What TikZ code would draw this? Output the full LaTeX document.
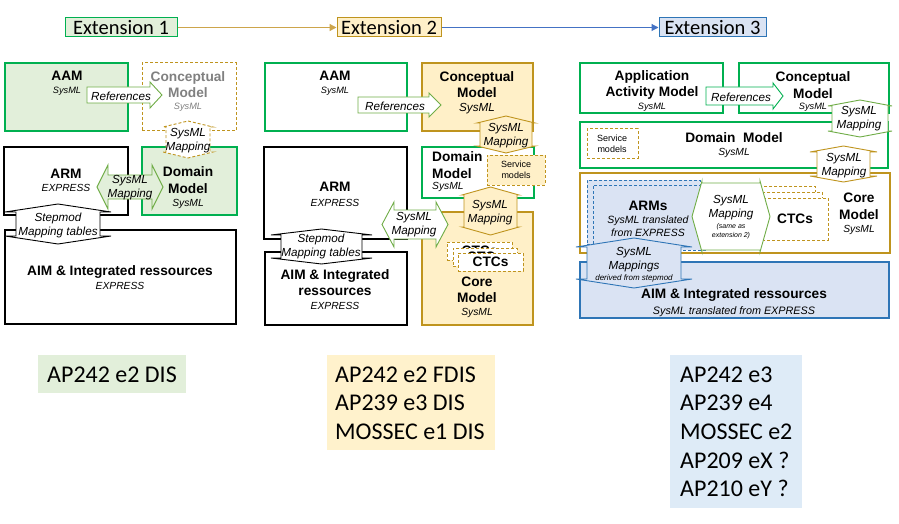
\documentclass[tikz,border=0pt]{standalone}
\usepackage{fontspec}
\setmainfont{Liberation Sans}
\newfontfamily\calib{Carlito}
\usetikzlibrary{arrows.meta}
\definecolor{grn}{RGB}{0,176,80}
\definecolor{grnl}{RGB}{226,239,218}
\definecolor{agrn}{RGB}{112,173,71}
\definecolor{gold}{RGB}{191,148,30}
\definecolor{goldl}{RGB}{255,240,200}
\definecolor{blu}{RGB}{46,117,182}
\definecolor{blul}{RGB}{218,227,243}
\definecolor{gry}{RGB}{128,128,128}
\definecolor{botgreen}{RGB}{226,239,218}
\definecolor{botgold}{RGB}{255,242,204}
\definecolor{botblue}{RGB}{222,235,247}
\definecolor{hgold}{RGB}{205,165,75}
\definecolor{hblue}{RGB}{68,114,196}
% vertical double arrow: style, x1, ytop, x2, ybottom, head length, shaft inset
\newcommand{\myVDA}[7]{\draw[#1] ({(#2+#4)/2},{#3}) -- ({#4},{#3+#6}) -- ({#4-#7},{#3+#6}) -- ({#4-#7},{#5-#6}) -- ({#4},{#5-#6}) -- ({(#2+#4)/2},{#5}) -- ({#2},{#5-#6}) -- ({#2+#7},{#5-#6}) -- ({#2+#7},{#3+#6}) -- ({#2},{#3+#6}) -- cycle;}
% horizontal double arrow: style, x1, ytop, x2, ybottom, head length, shaft inset
\newcommand{\myHDA}[7]{\draw[#1] ({#2},{(#3+#5)/2}) -- ({#2+#6},{#3}) -- ({#2+#6},{#3+#7}) -- ({#4-#6},{#3+#7}) -- ({#4-#6},{#3}) -- ({#4},{(#3+#5)/2}) -- ({#4-#6},{#5}) -- ({#4-#6},{#5-#7}) -- ({#2+#6},{#5-#7}) -- ({#2+#6},{#5}) -- cycle;}
% right arrow: style, x1, ytop, x2, ybottom, head length, shaft inset
\newcommand{\myRA}[7]{\draw[#1] ({#2},{#3+#7}) -- ({#4-#6},{#3+#7}) -- ({#4-#6},{#3}) -- ({#4},{(#3+#5)/2}) -- ({#4-#6},{#5}) -- ({#4-#6},{#5-#7}) -- ({#2},{#5-#7}) -- cycle;}
% box node: name, style, x1, y1, x2, y2
\newcommand{\mybox}[6]{\node[#2, inner sep=0pt, outer sep=0pt, minimum width={#5pt-#3pt}, minimum height={#6pt-#4pt}] (#1) at ({(#3+#5)/2},{(#4+#6)/2}) {};}
\tikzset{
  bx/.style={line width=1.1pt},
  dsh/.style={line width=1pt, dash pattern=on 3pt off 2pt},
  arr/.style={line width=0.9pt, line join=miter},
  ttl/.style={font={\fontsize{13.7}{16.5}\selectfont\bfseries}, align=center, inner sep=0pt},
  sub/.style={font={\fontsize{10.3}{12}\selectfont\itshape}, align=center, inner sep=0pt},
  subs/.style={font={\fontsize{9.2}{11}\selectfont\itshape}, align=center, inner sep=0pt},
  atx/.style={font={\fontsize{11.7}{14}\selectfont\itshape}, align=center, inner sep=0pt},
  svc/.style={font={\fontsize{9}{11}\selectfont}, align=center, inner sep=0pt},
  hdr/.style={line width=1pt, inner sep=0pt, minimum height=19pt, font={\calib\fontsize{20.5}{22}\selectfont}},
  bot/.style={font={\calib\fontsize{24}{27}\selectfont}, inner sep=0pt, anchor=base west},
}
\begin{document}
\begin{tikzpicture}[x=1pt,y=-1pt]
\useasboundingbox (0,0) rectangle (899,524);
\fill[white] (0,0) rectangle (899,524);

% ---------------- header ----------------
\node[hdr, draw=grn, fill=grnl, minimum width=112pt] (e1) at (121,27.5) {Extension 1};
\node[hdr, draw=gold, fill=goldl, minimum width=104pt] (e2) at (389,27.5) {Extension 2};
\node[hdr, draw=blu, fill=blul, minimum width=107pt] (e3) at (712.5,27.5) {Extension 3};
\draw[-{Triangle[length=7pt,width=7pt]}, hgold, line width=1.3pt] (e1) -- (e2);
\draw[-{Triangle[length=7pt,width=7pt]}, hblue, line width=1.1pt] (e2) -- (e3);

% ---------------- column 1 ----------------
\mybox{aam1}{bx, draw=grn, fill=grnl}{5}{63}{128}{131}
\mybox{con1}{dsh, draw=gold, fill=white}{142}{63}{236}{131}
\mybox{arm1}{bx, draw=black, fill=white}{4}{147}{128}{215}
\mybox{dom1}{bx, draw=grn, fill=grnl}{142}{147}{237}{215}
\mybox{aim1}{bx, draw=black, fill=white}{5}{230}{236}{324}

\node[ttl] (aam1t) at (67,76) {AAM};
\node[subs] (aam1s) at (67,91) {SysML};
\node[ttl, text=gry] (con1t) at (188,84.5) {Conceptual\\Model};
\node[subs, text=gry] (con1s) at (188,107) {SysML};
\node[ttl] (arm1t) at (66,174) {ARM};
\node[sub] (arm1s) at (66,188) {EXPRESS};
\node[ttl] (dom1t) at (188,180) {Domain\\Model};
\node[sub] (dom1s) at (188,204) {SysML};
\node[ttl] (aim1t) at (120,272) {AIM \& Integrated ressources};
\node[sub] (aim1s) at (120,286) {EXPRESS};

\myVDA{arr, draw=black, fill=white}{5}{204}{111}{244}{8}{11}
\node[atx] (stp1) at (58,225) {Stepmod\\Mapping tables};
\myHDA{arr, draw=agrn, fill=grnl}{97}{165}{163}{209}{11}{10}
\node[atx] (map1h) at (130,188) {SysML\\Mapping};
\myVDA{arr, draw=gold, fill=white, dash pattern=on 3pt off 2pt}{163}{121}{213}{158}{6}{3}
\node[atx] (map1v) at (188,140.5) {SysML\\Mapping};
\myRA{arr, draw=agrn, fill=white}{87}{82}{162}{108}{12}{5}
\node[atx] (ref1) at (121,96) {References};

% ---------------- column 2 ----------------
\mybox{aam2}{bx, draw=grn, fill=white}{265}{63}{407}{131}
\mybox{con2}{bx, draw=gold, fill=goldl}{422}{63}{533}{131}
\mybox{dom2}{bx, draw=grn, fill=white}{422}{147}{534}{198}
\mybox{svc2}{dsh, draw=gold, fill=goldl}{487}{155}{545}{185}
\mybox{arm2}{bx, draw=black, fill=white}{264}{147}{407}{239}
\mybox{aim2}{bx, draw=black, fill=white}{265}{252}{407}{325}
\mybox{core2}{bx, draw=gold, fill=goldl}{422}{212}{533}{325}

\node[ttl] (aam2t) at (335,76) {AAM};
\node[subs] (aam2s) at (335,91) {SysML};
\node[ttl] (con2t) at (477,84.5) {Conceptual\\Model};
\node[atx] (con2s) at (477,109) {SysML};
\node[ttl, align=left, anchor=west] (dom2t) at (432,165) {Domain\\Model};
\node[sub, anchor=west] (dom2s) at (432,187) {SysML};
\node[svc] (svc2t) at (516,170) {Service\\models};
\node[ttl] (arm2t) at (335,187) {ARM};
\node[sub] (arm2s) at (335,203) {EXPRESS};
\node[ttl] (aim2t) at (335,282.5) {AIM \& Integrated\\ressources};
\node[sub] (aim2s) at (335,306) {EXPRESS};
\node[ttl] (core2t) at (477,290) {Core\\Model};
\node[sub] (core2s) at (477,313) {SysML};

\mybox{ctc2a}{dsh, draw=gold, fill=white}{447}{242}{512}{260}
\node[ttl] (ctc2at) at (ctc2a) {CTCs};
\mybox{ctc2b}{dsh, draw=gold, fill=white}{453}{248}{517}{266}
\node[ttl] (ctc2bt) at (ctc2b) {CTCs};
\mybox{ctc2c}{dsh, draw=gold, fill=white}{458}{253}{523}{271}
\node[ttl] (ctc2ct) at (ctc2c) {CTCs};

\myVDA{arr, draw=gold, fill=goldl}{477}{116}{535}{153}{7}{3}
\node[atx] (map2a) at (506,136) {SysML\\Mapping};
\myVDA{arr, draw=gold, fill=goldl}{462}{187}{519}{235}{8}{2}
\node[atx] (map2b) at (490,213) {SysML\\Mapping};
\myHDA{arr, draw=agrn, fill=white}{382}{202}{448}{247}{12}{8}
\node[atx] (map2h) at (414,225) {SysML\\Mapping};
\myVDA{arr, draw=black, fill=white}{271}{229}{372}{264}{6}{10}
\node[atx] (stp2) at (321,246) {Stepmod\\Mapping tables};
\myRA{arr, draw=agrn, fill=white}{358}{93}{441}{117}{12}{4}
\node[atx] (ref2) at (395,106) {References};

% ---------------- column 3 ----------------
\mybox{aam3}{bx, draw=grn, fill=white}{580}{63}{723}{113}
\mybox{con3}{bx, draw=grn, fill=white}{739}{63}{889}{113}
\mybox{dom3}{bx, draw=grn, fill=white}{580}{122}{888}{168}
\mybox{svc3}{dsh, draw=gold, fill=white}{587}{129}{638}{158}
\mybox{core3}{bx, draw=gold, fill=white}{580}{173}{890}{253}
\mybox{aim3}{bx, draw=blu, fill=blul}{580}{262}{889}{318}

\node[ttl] (aam3t) at (652,85) {Application\\Activity Model};
\node[subs] (aam3s) at (652,107) {SysML};
\node[ttl] (con3t) at (813,85) {Conceptual\\Model};
\node[subs] (con3s) at (813,107) {SysML};
\node[ttl] (dom3t) at (734,138) {Domain~~Model};
\node[sub] (dom3s) at (734,153) {SysML};
\node[svc] (svc3t) at (612,143.5) {Service\\models};
\node[ttl] (core3t) at (859,206.5) {Core\\Model};
\node[sub] (core3s) at (859,230) {SysML};
\node[ttl] (aim3t) at (734,295) {AIM \& Integrated ressources};
\node[font={\fontsize{10.8}{13}\selectfont\itshape}, inner sep=0pt] (aim3s) at (734,312) {SysML translated from EXPRESS};

\mybox{arm3a}{dsh, draw=blu, fill=blul}{587}{180}{700}{244}
\mybox{arm3b}{dsh, draw=blu, fill=blul}{593}{185}{705}{250}
\node[ttl] (arm3t) at (648,206) {ARMs};
\node[font={\fontsize{10.5}{13}\selectfont\itshape}, align=center, inner sep=0pt] (arm3s) at (648,226.5) {SysML translated\\from EXPRESS};

\mybox{ctc3a}{dsh, draw=gold, fill=white}{750}{186}{815}{228}
\mybox{ctc3b}{dsh, draw=gold, fill=white}{756}{192}{822}{234}
\mybox{ctc3c}{dsh, draw=gold, fill=white}{762}{198}{828}{240}
\node[ttl] (ctc3t) at (795,219) {CTCs};

\myHDA{arr, draw=agrn, fill=white}{692}{181}{770}{252}{10}{2}
\node[atx] (map3h) at (731,208) {SysML\\Mapping};
\node[font={\fontsize{7}{9}\selectfont\itshape}, align=center, inner sep=0pt] (map3hs) at (731,231.5) {(same as\\extension 2)};
\myVDA{arr, draw=blu, fill=blul}{576}{238}{692}{288}{9}{11}
\node[atx] (map3b) at (634,260) {SysML\\Mappings};
\node[font={\fontsize{8}{10}\selectfont\itshape}, inner sep=0pt] (map3bs) at (634,278) {derived from stepmod};
\myVDA{arr, draw=agrn, fill=white}{828}{100}{892}{137}{6}{4}
\node[atx] (map3g) at (859,118.5) {SysML\\Mapping};
\myVDA{arr, draw=gold, fill=white}{810}{146}{877}{182}{6}{7}
\node[atx] (map3y) at (844,165.5) {SysML\\Mapping};
\myRA{arr, draw=grn, fill=white}{706}{83}{783}{109}{10}{4}
\node[atx] (ref3) at (741,97) {References};

% ---------------- bottom labels ----------------
\mybox{b1}{fill=botgreen}{38}{355}{186}{393}
\node[bot] (b1a) at (47,382) {AP242 e2 DIS};
\mybox{b2}{fill=botgold}{327}{355}{495}{450}
\node[bot] (b2a) at (335,382) {AP242 e2 FDIS};
\node[bot] (b2b) at (335,410.7) {AP239 e3 DIS};
\node[bot] (b2c) at (335,439.4) {MOSSEC e1 DIS};
\mybox{b3}{fill=botblue}{670}{355}{802}{508}
\node[bot] (b3a) at (680,382) {AP242 e3};
\node[bot] (b3b) at (680,410.7) {AP239 e4};
\node[bot] (b3c) at (680,439.4) {MOSSEC e2};
\node[bot] (b3d) at (680,468.1) {AP209 eX ?};
\node[bot] (b3e) at (680,496.8) {AP210 eY ?};
\end{tikzpicture}
\end{document}
